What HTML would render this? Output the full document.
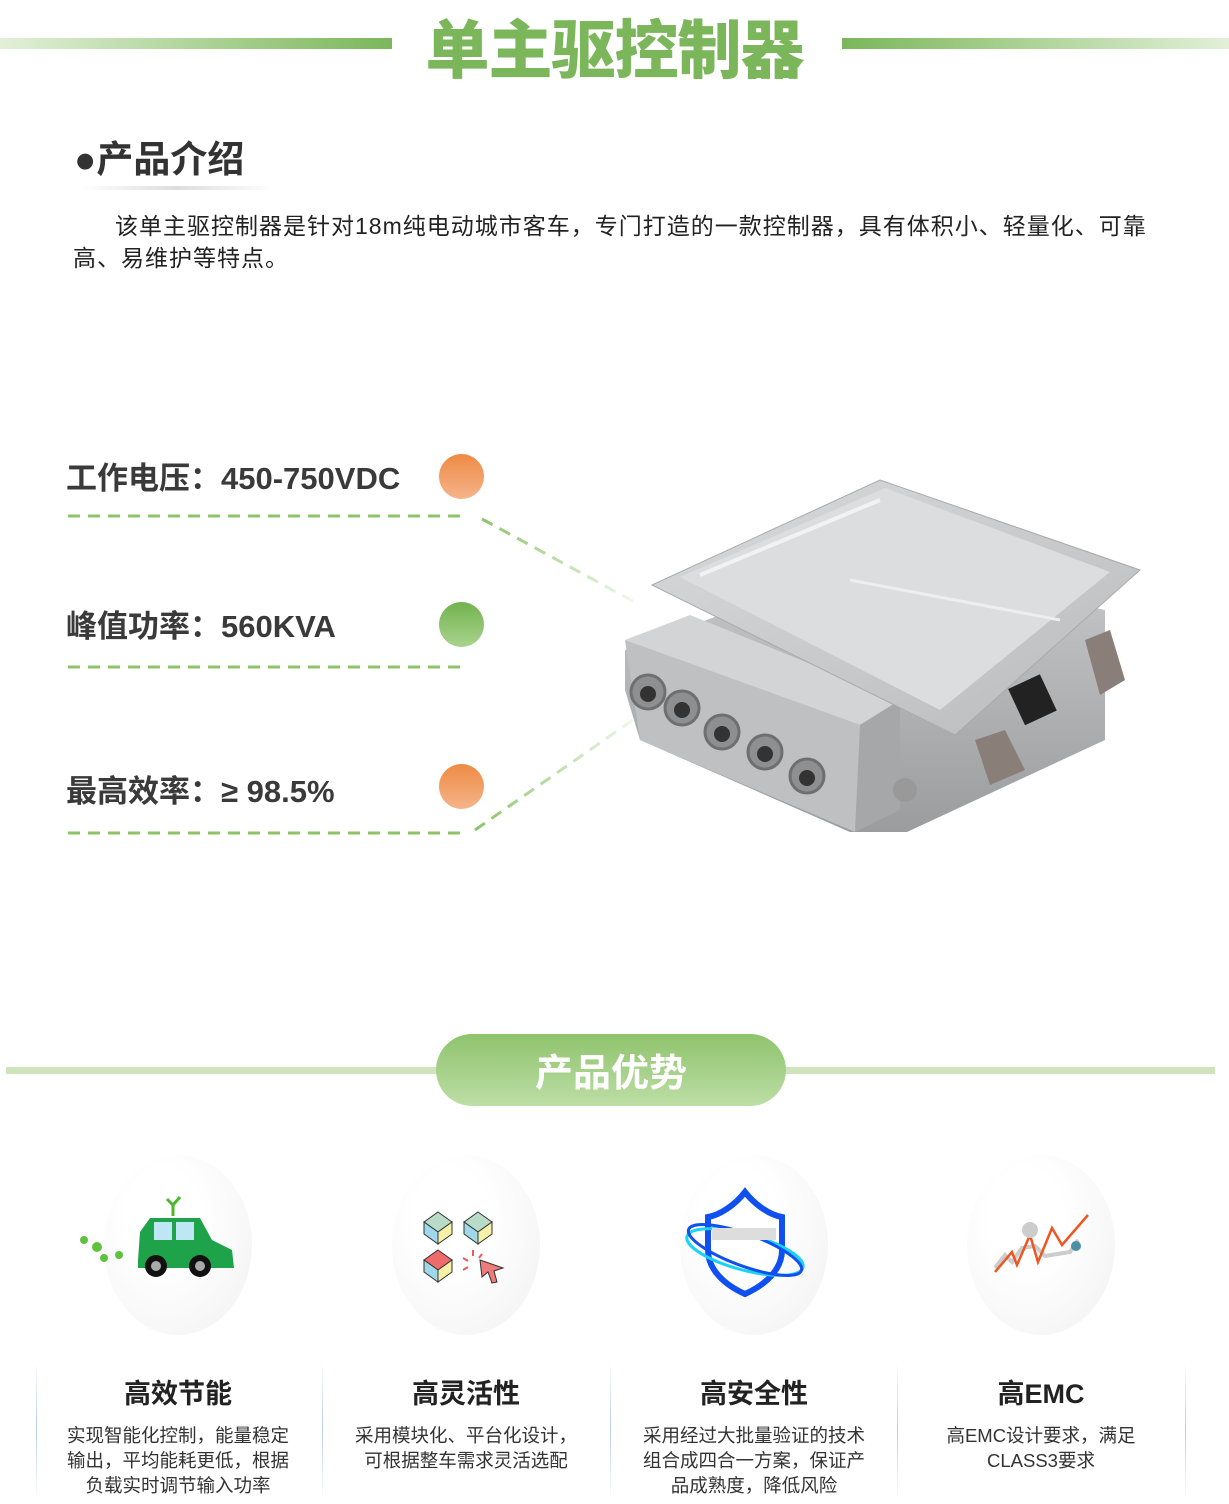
<!DOCTYPE html>
<html><head><meta charset="utf-8">
<style>
*{margin:0;padding:0;box-sizing:border-box}
body{width:1229px;height:1504px;background:#fff;position:relative;overflow:hidden;font-family:"Liberation Sans","Noto Sans CJK SC",sans-serif;color:#333}
.abs{position:absolute}
.title{left:0;width:1229px;top:0px;text-align:center;font-size:64px;font-weight:900;color:#7bb75a;letter-spacing:-1px}
.spec{left:66px;font-size:31px;font-weight:bold;color:#3a3a3a;white-space:nowrap}
.dot{width:45px;height:45px;border-radius:50%}
.or{background:linear-gradient(#ee8a44,#f5b48a)}
.gr{background:linear-gradient(#73b24e,#a8d48d)}
.oval{width:148px;height:180px;border-radius:50%;background:radial-gradient(ellipse at 40% 35%,#fff 30%,#f1f1f1 100%)}
.ct{width:288px;text-align:center;font-size:27px;font-weight:bold;color:#222}
.cd{width:288px;text-align:center;font-size:18.5px;line-height:25px;color:#333}
.sep{width:1px;top:1360px;height:140px;background:linear-gradient(#fff,#b5cde8 50%,#fff)}
</style></head><body>
<div class="abs" style="left:0;top:38px;width:392px;height:11px;background:linear-gradient(90deg,#e2f0d8,#7bb75a)"></div>
<div class="abs" style="left:842px;top:38px;width:387px;height:11px;background:linear-gradient(90deg,#7bb75a,#e2f0d8)"></div>
<div class="abs title">单主驱控制器</div>

<div class="abs" style="left:74px;top:129px;font-size:37px;font-weight:bold;color:#333">●产品介绍</div>
<div class="abs" style="left:80px;top:186px;width:195px;height:4px;background:linear-gradient(90deg,#fff,#ddd,#fff)"></div>
<div class="abs" style="left:73px;top:210px;width:1150px;font-size:23px;line-height:32px;color:#222;white-space:nowrap;letter-spacing:1px"><span style="padding-left:42px"></span>该单主驱控制器是针对18m纯电动城市客车，专门打造的一款控制器，具有体积小、轻量化、可靠<br>高、易维护等特点。</div>

<div class="abs spec" style="top:453px">工作电压：450-750VDC</div>
<div class="abs dot or" style="left:439px;top:454px"></div>
<div class="abs spec" style="top:601px">峰值功率：560KVA</div>
<div class="abs dot gr" style="left:439px;top:602px"></div>
<div class="abs spec" style="top:766px">最高效率：≥ 98.5%</div>
<div class="abs dot or" style="left:439px;top:764px"></div>

<svg class="abs" style="left:0;top:0" width="1229" height="1504">
<defs>
<linearGradient id="fade1" x1="0" x2="1"><stop offset="0" stop-color="#8cc46a"/><stop offset="1" stop-color="#8cc46a" stop-opacity="0.1"/></linearGradient>
<linearGradient id="lid" x1="0" y1="0" x2="1" y2="1"><stop offset="0" stop-color="#d9dadb"/><stop offset="1" stop-color="#b9bbbd"/></linearGradient>
<linearGradient id="side" x1="0" y1="0" x2="0" y2="1"><stop offset="0" stop-color="#c8c9cb"/><stop offset="1" stop-color="#9a9c9e"/></linearGradient>
</defs>
<g stroke-dasharray="12,8" stroke-width="3" fill="none">
<line x1="68" y1="516" x2="460" y2="516" stroke="#8cc46a"/>
<line x1="482" y1="519" x2="640" y2="605" stroke="url(#fade1)"/>
<line x1="68" y1="667" x2="460" y2="667" stroke="#8cc46a"/>
<line x1="480" y1="667" x2="640" y2="667" stroke="url(#fade1)"/>
<line x1="68" y1="833" x2="460" y2="833" stroke="#8cc46a"/>
<line x1="475" y1="830" x2="640" y2="715" stroke="url(#fade1)"/>
</g>
<polygon points="625,650 870,560 1105,610 1105,740 907,832 850,832 640,740 625,690" fill="url(#side)"/>
<polygon points="625,640 690,615 900,700 860,725" fill="#d3d4d5"/>
<polygon points="860,725 900,700 900,810 855,832" fill="#a5a7a9"/>
<polygon points="625,640 860,725 855,832 640,740" fill="#bfc0c2"/>
<polygon points="652,585 880,480 1140,570 955,735" fill="url(#lid)" stroke="#aaa"/>
<polygon points="680,577 885,488 1110,572 940,710" fill="#dcdddf"/>
<line x1="700" y1="575" x2="880" y2="500" stroke="#f2f2f2" stroke-width="4"/>
<line x1="850" y1="580" x2="1060" y2="620" stroke="#eee" stroke-width="3"/>
<g fill="#8d8f91" stroke="#6d6f71" stroke-width="3">
<circle cx="648" cy="692" r="17"/><circle cx="682" cy="708" r="17"/><circle cx="722" cy="732" r="17"/><circle cx="765" cy="752" r="17"/><circle cx="807" cy="776" r="17"/>
</g>
<g fill="#333"><circle cx="648" cy="694" r="8"/><circle cx="682" cy="710" r="8"/><circle cx="722" cy="734" r="8"/><circle cx="765" cy="754" r="8"/><circle cx="807" cy="778" r="8"/></g>
<rect x="1015" y="680" width="35" height="40" fill="#222" transform="rotate(-25 1032 700)"/>
<polygon points="975,740 1005,730 1025,770 990,785" fill="#8a7f78"/>
<polygon points="1085,640 1110,630 1125,680 1100,695" fill="#8a7f78"/>
<circle cx="905" cy="790" r="12" fill="#999"/>

<rect x="6" y="1067" width="1209" height="7" fill="#cde4bd"/>
<defs><linearGradient id="pill" x1="0" y1="0" x2="0" y2="1"><stop offset="0" stop-color="#8ec36c"/><stop offset="1" stop-color="#bddea6"/></linearGradient></defs>
<rect x="436" y="1034" width="350" height="72" rx="36" fill="url(#pill)"/>
</svg>
<div class="abs" style="left:436px;top:1042px;width:350px;text-align:center;font-size:38px;font-weight:bold;color:#fff">产品优势</div>

<div class="abs oval" style="left:104px;top:1155px"></div>
<div class="abs oval" style="left:392px;top:1155px"></div>
<div class="abs oval" style="left:680px;top:1155px"></div>
<div class="abs oval" style="left:967px;top:1155px"></div>

<svg class="abs" style="left:0;top:0" width="1229" height="1504">
<g fill="#5cc43c"><circle cx="84" cy="1240" r="4"/><circle cx="97" cy="1247" r="5"/><circle cx="104" cy="1258" r="4"/><circle cx="119" cy="1255" r="4"/></g>
<path d="M138,1260 L140,1232 L150,1218 L200,1218 L212,1240 L232,1250 L234,1268 L138,1268Z" fill="#1fa34a"/>
<rect x="154" y="1222" width="18" height="18" fill="#bfe6f5"/><rect x="176" y="1222" width="18" height="18" fill="#bfe6f5"/>
<circle cx="156" cy="1266" r="11" fill="#111"/><circle cx="156" cy="1266" r="5" fill="#aaa"/>
<circle cx="200" cy="1266" r="11" fill="#111"/><circle cx="200" cy="1266" r="5" fill="#aaa"/>
<path d="M173,1216 L173,1203 M173,1205 l-6,-6 M173,1205 l7,-8" stroke="#4cb82f" stroke-width="3"/>
<g stroke="#333" stroke-width="1">
<polygon points="438,1212 452,1222 438,1232 424,1222" fill="#b9dcc8"/><polygon points="424,1222 438,1232 438,1244 424,1234" fill="#9fd8ea"/><polygon points="452,1222 438,1232 438,1244 452,1234" fill="#f8f1a8"/>
<polygon points="478,1212 492,1222 478,1232 464,1222" fill="#b9dcc8"/><polygon points="464,1222 478,1232 478,1244 464,1234" fill="#9fd8ea"/><polygon points="492,1222 478,1232 478,1244 492,1234" fill="#f8f1a8"/>
<polygon points="438,1250 452,1260 438,1270 424,1260" fill="#ef6b6b"/><polygon points="424,1260 438,1270 438,1282 424,1272" fill="#9fd8ea"/><polygon points="452,1260 438,1270 438,1282 452,1272" fill="#f8f1a8"/>
<polygon points="480,1260 503,1268 494,1271 497,1282 492,1283 488,1272 482,1277Z" fill="#ef7b7b"/>
</g>
<g stroke="#ef5b5b" stroke-width="2"><line x1="473" y1="1250" x2="473" y2="1256"/><line x1="463" y1="1258" x2="468" y2="1261"/><line x1="463" y1="1270" x2="468" y2="1267"/><line x1="482" y1="1254" x2="479" y2="1258"/></g>
<path d="M745,1192 C735,1205 720,1215 708,1217 L708,1250 C708,1270 725,1285 745,1294 C765,1285 782,1270 782,1250 L782,1217 C770,1215 755,1205 745,1192Z" fill="none" stroke="#1150f0" stroke-width="6"/>
<ellipse cx="745" cy="1252" rx="60" ry="18" transform="rotate(15 745 1252)" fill="none" stroke="#19d3f5" stroke-width="3"/>
<ellipse cx="745" cy="1250" rx="60" ry="16" transform="rotate(20 745 1250)" fill="none" stroke="#1150f0" stroke-width="3"/>
<rect x="712" y="1228" width="64" height="12" fill="#ddd"/>
<polyline points="995,1268 1005,1255 1012,1262 1022,1248 1035,1246 1045,1256 1070,1252 1078,1240" fill="none" stroke="#ccc" stroke-width="4"/>
<polyline points="995,1272 1012,1252 1017,1265 1030,1235 1038,1262 1052,1228 1062,1245 1088,1215" fill="none" stroke="#ee5522" stroke-width="2.5"/>
<circle cx="1030" cy="1230" r="8" fill="#ccc"/><circle cx="1076" cy="1246" r="5" fill="#4a8fa3"/>
</svg>

<div class="abs sep" style="left:36px"></div>
<div class="abs sep" style="left:322px"></div>
<div class="abs sep" style="left:610px"></div>
<div class="abs sep" style="left:897px"></div>
<div class="abs sep" style="left:1185px"></div>

<div class="abs ct" style="left:34px;top:1372px">高效节能</div>
<div class="abs ct" style="left:322px;top:1372px">高灵活性</div>
<div class="abs ct" style="left:610px;top:1372px">高安全性</div>
<div class="abs ct" style="left:897px;top:1372px">高EMC</div>
<div class="abs cd" style="left:34px;top:1423px">实现智能化控制，能量稳定<br>输出，平均能耗更低，根据<br>负载实时调节输入功率</div>
<div class="abs cd" style="left:322px;top:1423px">采用模块化、平台化设计，<br>可根据整车需求灵活选配</div>
<div class="abs cd" style="left:610px;top:1423px">采用经过大批量验证的技术<br>组合成四合一方案，保证产<br>品成熟度，降低风险</div>
<div class="abs cd" style="left:897px;top:1423px">高EMC设计要求，满足<br>CLASS3要求</div>
</body></html>
